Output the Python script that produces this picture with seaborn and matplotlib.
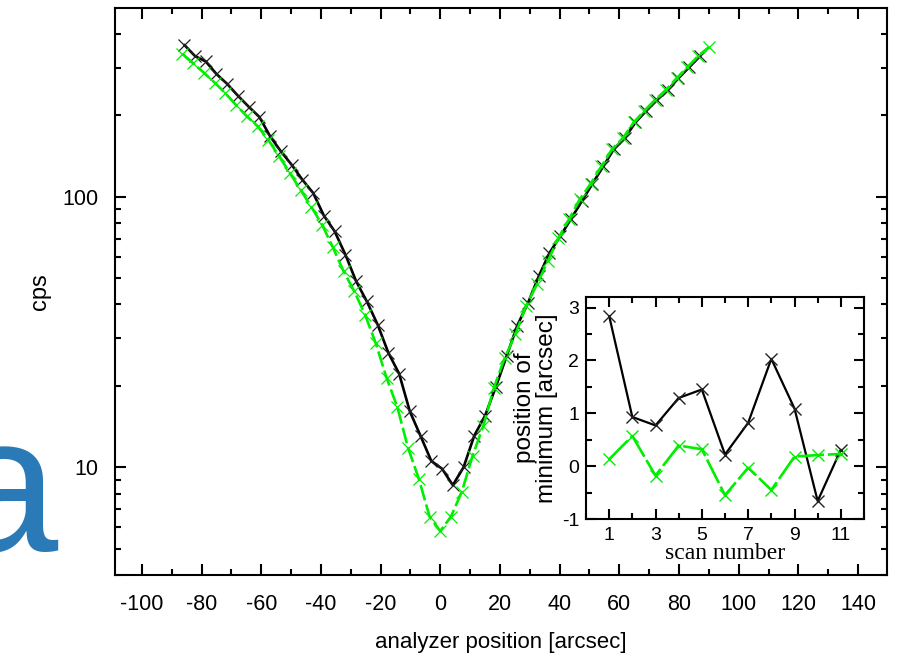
import numpy as np
import pandas as pd
import matplotlib
matplotlib.use("Agg")
import matplotlib.pyplot as plt
import seaborn as sns
from matplotlib.ticker import FixedLocator, MultipleLocator, NullFormatter, LogLocator

# ---------------- data ----------------
green_x = [-86.4, -82.8, -79.2, -75.6, -72.0, -68.4, -64.8, -61.2, -57.6, -54.0,
           -50.4, -46.8, -43.2, -39.6, -36.0, -32.4, -28.8, -25.2, -21.6, -18.0,
           -14.4, -10.8, -7.2, -3.6, 0.0, 3.6, 7.2, 10.8, 14.4, 18.0,
           21.6, 25.2, 28.8, 32.4, 36.0, 39.6, 43.2, 46.8, 50.4, 54.0,
           57.6, 61.2, 64.8, 68.4, 72.0, 75.6, 79.2, 82.8, 86.4, 90.0]
green_cps = [337, 311, 287, 264, 241, 218, 198, 182, 162, 141,
             122.3, 106, 91.6, 78.8, 65.0, 53.0, 44.7, 36.6, 28.7, 21.4,
             16.7, 11.8, 9.08, 6.58, 5.81, 6.58, 8.11, 11.0, 14.2, 19.7,
             25.4, 31.0, 39.6, 47.4, 57.7, 70.4, 82.8, 98.0, 111.7, 129.4,
             150, 164.7, 188, 208, 228, 248, 274, 301, 331, 357]

black_x = [-85.8, -82.2, -78.6, -75.0, -71.4, -67.8, -64.2, -60.6, -57.0, -53.4,
           -49.8, -46.2, -42.6, -39.0, -35.4, -31.8, -28.2, -24.6, -21.0, -17.4,
           -13.8, -10.2, -6.6, -3.0, 0.6, 4.2, 7.8, 11.4, 15.0, 18.6,
           22.2, 25.8, 29.4, 33.0, 36.6, 40.2, 43.8, 47.4, 51.0, 54.6,
           58.2, 61.8, 65.4, 69.0, 72.6, 76.2, 79.8, 83.4, 87.0]
black_cps = [364, 331, 316, 284, 261, 236, 215, 197, 167, 147,
             131.2, 115.5, 103.2, 85.1, 74.5, 61.1, 48.7, 41.0, 33.7, 26.5,
             22.2, 16.1, 13.05, 10.55, 9.88, 8.59, 10.0, 13.1, 15.5, 19.8,
             25.7, 33.4, 40.5, 50.8, 62.0, 71.4, 82.8, 96.1, 111.7, 129.4,
             150, 164.7, 188, 208, 228, 248, 274, 301, 331]

scan_number = [1, 2, 3, 4, 5, 6, 7, 8, 9, 10, 11]
black_min = [2.84, 0.93, 0.77, 1.29, 1.45, 0.22, 0.82, 2.03, 1.09, -0.66, 0.31]
green_min = [0.13, 0.57, -0.18, 0.39, 0.32, -0.55, -0.03, -0.45, 0.18, 0.21, 0.23]

main_xticks = [-100, -80, -60, -40, -20, 0, 20, 40, 60, 80, 100, 120, 140]
main_yticks = [10, 100]
main_yticklabels = ["10", "100"]
inset_xticks = [1, 3, 5, 7, 9, 11]
inset_yticks = [-1, 0, 1, 2, 3]

GREEN = "#00ee00"
BLACK = "#000000"

# ---------------- style ----------------
sns.set_theme(style="ticks")
plt.rcParams["font.family"] = ["Liberation Sans", "DejaVu Sans"]
plt.rcParams.update({
    "text.color": "black", "axes.labelcolor": "black",
    "xtick.color": "black", "ytick.color": "black",
    "axes.edgecolor": "black", "axes.linewidth": 1.5,
    "axes.unicode_minus": False,
})

fig = plt.figure(figsize=(9.05, 6.59), dpi=100)
ax = fig.add_axes([115 / 905, (659 - 575) / 659, (887 - 115) / 905, (575 - 8) / 659])

df_black = pd.DataFrame({"x": black_x, "cps": black_cps})
df_green = pd.DataFrame({"x": green_x, "cps": green_cps})

sns.lineplot(data=df_black, x="x", y="cps", ax=ax, color=BLACK, linewidth=1.9,
             marker="x", markersize=8, markeredgewidth=0.9, markeredgecolor="#222222")
sns.lineplot(data=df_green, x="x", y="cps", ax=ax, color=GREEN, linewidth=1.9,
             linestyle=(0, (6, 1.6)),
             marker="x", markersize=8, markeredgewidth=0.9, markeredgecolor=GREEN)

ax.set_yscale("log")
ax.set_xlim(-109, 149.7)
ax.set_ylim(4.0, 498)
ax.xaxis.set_major_locator(FixedLocator(main_xticks))
ax.xaxis.set_minor_locator(MultipleLocator(10))
ax.yaxis.set_major_locator(FixedLocator(main_yticks))
ax.set_yticklabels(main_yticklabels)
ax.yaxis.set_minor_locator(LogLocator(base=10, subs=np.arange(2, 10)))
ax.yaxis.set_minor_formatter(NullFormatter())
ax.tick_params(which="both", direction="in", top=True, right=True, width=1.5,
               labelsize=15.5)
ax.tick_params(axis="x", which="major", pad=14)
ax.tick_params(axis="y", which="major", pad=12)
ax.tick_params(which="major", length=8)
ax.tick_params(which="minor", length=4.5)
ax.set_xlabel("analyzer position [arcsec]", fontsize=16, labelpad=12)
ax.set_ylabel("cps", fontsize=17, labelpad=8)

fig.text(-50 / 905, 108 / 659, "a", fontsize=140, color="#2a7ab8",
         ha="left", va="baseline", family="Liberation Sans")

# ---------------- inset ----------------
ax2 = fig.add_axes([586 / 905, (659 - 519) / 659, (864 - 586) / 905, (519 - 297) / 659])
ax2.set_facecolor("white")
df_bm = pd.DataFrame({"scan": scan_number, "pos": black_min})
df_gm = pd.DataFrame({"scan": scan_number, "pos": green_min})
sns.lineplot(data=df_bm, x="scan", y="pos", ax=ax2, color=BLACK, linewidth=1.6,
             marker="x", markersize=9, markeredgewidth=1.0, markeredgecolor="#222222")
sns.lineplot(data=df_gm, x="scan", y="pos", ax=ax2, color=GREEN, linewidth=1.9,
             linestyle=(0, (10, 1.5)),
             marker="x", markersize=9, markeredgewidth=1.0, markeredgecolor=GREEN)
ax2.set_xlim(0, 12)
ax2.set_ylim(-1, 3.2)
ax2.xaxis.set_major_locator(FixedLocator(inset_xticks))
ax2.xaxis.set_minor_locator(MultipleLocator(1))
ax2.yaxis.set_major_locator(FixedLocator(inset_yticks))
ax2.yaxis.set_minor_locator(MultipleLocator(0.5))
ax2.tick_params(which="both", direction="in", top=True, right=True, width=1.5,
                labelsize=14, pad=5)
ax2.tick_params(axis="x", which="major", pad=6)
ax2.tick_params(which="major", length=7)
ax2.tick_params(which="minor", length=4)
for s in ax2.spines.values():
    s.set_linewidth(1.5)
ax2.set_xlabel("scan number", fontsize=17, family=["Liberation Serif", "DejaVu Serif"],
               labelpad=-1)
ax2.set_ylabel("position of\nminimum [arcsec]", fontsize=17.5, linespacing=0.95, labelpad=3)

fig.savefig("out.png", dpi=100)
